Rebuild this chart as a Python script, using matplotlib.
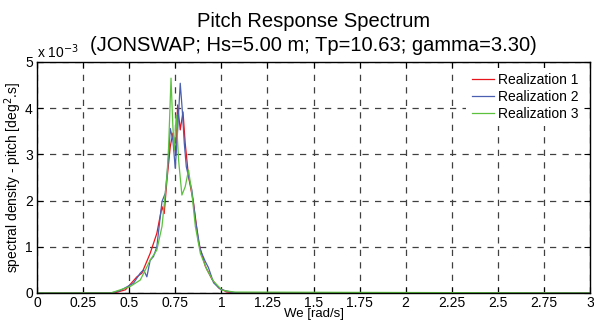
import matplotlib.pyplot as plt

plt.rcParams['font.family'] = ['Liberation Sans', 'DejaVu Sans']

# spectral density values in units of 1e-3 deg^2.s
w1 = [0.0, 0.42, 0.48, 0.542, 0.569, 0.614, 0.65, 0.678, 0.69, 0.705, 0.723, 0.737,
      0.752, 0.763, 0.777, 0.792, 0.804, 0.822, 0.849, 0.877, 0.913, 0.95, 0.986,
      1.03, 1.10, 3.0]
s1 = [0.0, 0.0, 0.07, 0.35, 0.43, 0.86, 1.29, 1.87, 1.72, 2.45, 3.17, 3.46,
      3.02, 4.07, 3.53, 3.92, 3.24, 2.52, 1.95, 1.08, 0.58, 0.29, 0.11,
      0.02, 0.0, 0.0]

w2 = [0.0, 0.40, 0.45, 0.523, 0.56, 0.578, 0.596, 0.614, 0.632, 0.65, 0.678, 0.696,
      0.714, 0.723, 0.737, 0.75, 0.763, 0.777, 0.788, 0.799, 0.81, 0.822, 0.84,
      0.859, 0.886, 0.913, 0.93, 0.958, 0.995, 1.05, 1.10, 3.0]
s2 = [0.0, 0.0, 0.05, 0.21, 0.43, 0.50, 0.35, 0.71, 0.79, 1.0, 1.98, 2.16,
      2.95, 3.56, 3.31, 2.70, 3.53, 4.54, 3.96, 3.24, 2.73, 2.52, 2.23,
      1.59, 0.93, 0.68, 0.55, 0.22, 0.08, 0.02, 0.0, 0.0]

w3 = [0.0, 0.40, 0.505, 0.56, 0.614, 0.65, 0.678, 0.696, 0.705, 0.714, 0.727, 0.737,
      0.745, 0.755, 0.768, 0.786, 0.804, 0.822, 0.84, 0.859, 0.886, 0.922, 0.958,
      1.004, 1.07, 3.0]
s3 = [0.0, 0.0, 0.14, 0.28, 0.71, 0.93, 1.44, 2.16, 2.52, 3.17, 4.65, 3.6,
      3.1, 3.85, 2.88, 2.12, 2.30, 2.66, 2.16, 1.44, 0.86, 0.50, 0.25,
      0.06, 0.02, 0.0]

labels = ['Realization 1', 'Realization 2', 'Realization 3']
colors = ['#e8141c', '#4a5fb0', '#5cc23e']
xticks = [0, 0.25, 0.5, 0.75, 1, 1.25, 1.5, 1.75, 2, 2.25, 2.5, 2.75, 3]
xticklabels = ['0', '0.25', '0.5', '0.75', '1', '1.25', '1.5', '1.75', '2', '2.25', '2.5', '2.75', '3']

fig = plt.figure(figsize=(5.94, 3.24), dpi=100)
ax = fig.add_axes([0.0623, 0.0957, 0.931, 0.713])

for w, s, lab, c in zip([w1, w2, w3], [s1, s2, s3], labels, colors):
    ax.plot(w, s, color=c, lw=0.9, label=lab)

ax.set_xlim(0, 3)
ax.set_ylim(0, 5)
ax.set_xticks(xticks)
ax.set_xticklabels(xticklabels)
ax.set_yticks([0, 1, 2, 3, 4, 5])
ax.tick_params(direction='in', top=True, right=True, labelsize=10, length=4, pad=3)
ax.tick_params(axis='x', pad=2)
ax.grid(True, color='0.25', linestyle=(0, (5, 5)), lw=0.9)
for sp in ax.spines.values():
    sp.set_linewidth(1.0)

ax.set_xlabel('We [rad/s]', fontsize=9.5, labelpad=-1)
ax.set_ylabel('spectral density - pitch [deg$^2$.s]', fontsize=10, labelpad=1)
ax.text(0.0, 1.005, r'x 10$^{-3}$', transform=ax.transAxes, fontsize=10, va='bottom')
ax.set_title('Pitch Response Spectrum\n(JONSWAP; Hs=5.00 m; Tp=10.63; gamma=3.30)',
             fontsize=14.5, linespacing=1.3, pad=8)

leg = ax.legend(loc='upper right', frameon=True, fontsize=10, handlelength=1.6,
                borderaxespad=0.4, labelspacing=0.2, handletextpad=0.3)
leg.get_frame().set_edgecolor('none')
leg.get_frame().set_alpha(1)

plt.savefig('out.png', dpi=100)
